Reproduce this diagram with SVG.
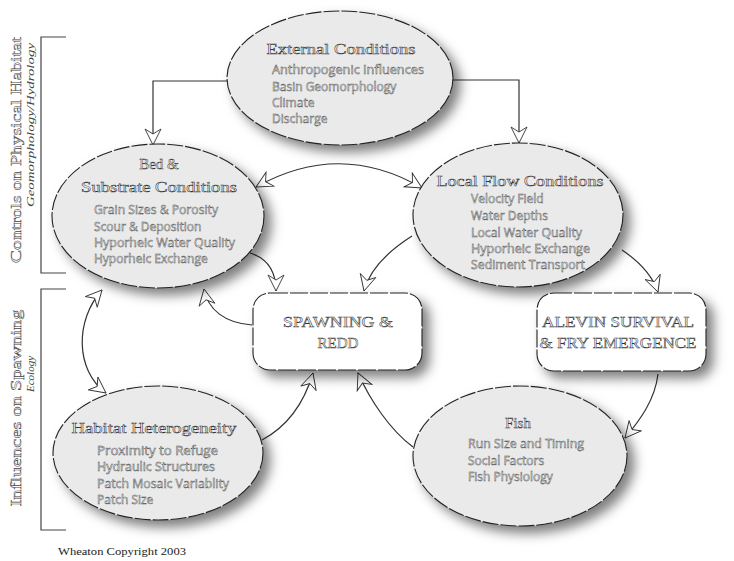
<svg xmlns="http://www.w3.org/2000/svg" width="734" height="561" viewBox="0 0 734 561">
<style>
.ell{fill:#eaeaea;stroke:#222;stroke-width:1.1;stroke-dasharray:16 2}
.box{fill:#fff;stroke:#222;stroke-width:1.1;stroke-dasharray:18 2}
.title{font-family:"Liberation Serif",serif;font-size:15px;fill:#fff;stroke:#333;stroke-width:0.5}
.item{font-family:"Open Sans","Liberation Sans",sans-serif;font-size:12px;fill:#fff;stroke:#444;stroke-width:0.45}
.cap{font-family:"Liberation Serif",serif;font-size:15px;fill:#fff;stroke:#333;stroke-width:0.5}
.side{font-family:"Liberation Serif",serif;font-size:15px;fill:#fff;stroke:#444;stroke-width:0.45}
.sub{font-family:"Liberation Serif",serif;font-size:11px;font-style:italic;fill:#444}
.conn path{fill:none;stroke:#333;stroke-width:1.2}
.brk{fill:none;stroke:#444;stroke-width:1.2}
</style>
<defs>
<filter id="sh" x="-20%" y="-20%" width="150%" height="150%">
<feDropShadow dx="7" dy="7" stdDeviation="6" flood-color="#000" flood-opacity="0.5"/>
</filter>
<marker id="ah" viewBox="-17 -9 18 18" refX="0" refY="0" markerWidth="18" markerHeight="18" markerUnits="userSpaceOnUse" orient="auto-start-reverse">
<path d="M0,0 L-16,-8 L-11,0 L-16,8 Z" fill="#fff" stroke="#333" stroke-width="0.9"/>
</marker>
</defs>
<rect width="734" height="561" fill="#fff"/>

<g id="brackets">
<path class="brk" d="M66,37 H41 V273 H66"/>
<path class="brk" d="M66,289 H41 V530 H66"/>
<text class="side" transform="translate(21,150) rotate(-90)" text-anchor="middle" textLength="226" lengthAdjust="spacingAndGlyphs">Controls on Physical Habitat</text>
<text class="sub" transform="translate(34,125) rotate(-90)" text-anchor="middle" textLength="164" lengthAdjust="spacingAndGlyphs">Geomorphology/Hydrology</text>
<text class="side" transform="translate(21,408) rotate(-90)" text-anchor="middle" textLength="197" lengthAdjust="spacingAndGlyphs">Influences on Spawning</text>
<text class="sub" transform="translate(34,374) rotate(-90)" text-anchor="middle">Ecology</text>
</g>

<g class="conn" id="connectors">
<path d="M228,81 H153 V145" marker-end="url(#ah)"/>
<path d="M452,80 H519 V143" marker-end="url(#ah)"/>
<path d="M256,187 Q340,140 422,188" marker-start="url(#ah)" marker-end="url(#ah)"/>
<path d="M250,253 C266,258 276,270 276,291" marker-end="url(#ah)"/>
<path d="M412,236 C390,250 370,268 364,291" marker-end="url(#ah)"/>
<path d="M252,325 C225,323 208,310 204,289" marker-end="url(#ah)"/>
<path d="M622,250 C640,262 652,275 658,292" marker-end="url(#ah)"/>
<path d="M658,374 C655,400 640,420 625,438" marker-end="url(#ah)"/>
<path d="M413,447 C390,430 370,400 358,373" marker-end="url(#ah)"/>
<path d="M262,440 C290,425 305,400 313,373" marker-end="url(#ah)"/>
<path d="M102,290 C75,320 75,370 106,393" marker-start="url(#ah)" marker-end="url(#ah)"/>
</g>

<g id="external">
<ellipse class="ell" cx="340" cy="78" rx="113" ry="67" filter="url(#sh)"/>
<text class="title" x="341" y="54" text-anchor="middle" textLength="149" lengthAdjust="spacingAndGlyphs">External Conditions</text>
<text class="item" x="272" y="74" textLength="152" lengthAdjust="spacingAndGlyphs">Anthropogenic Influences</text>
<text class="item" x="272" y="91">Basin Geomorphology</text>
<text class="item" x="272" y="107">Climate</text>
<text class="item" x="272" y="123">Discharge</text>
</g>

<g id="bed">
<ellipse class="ell" cx="158" cy="216" rx="106" ry="72" filter="url(#sh)"/>
<text class="title" x="159" y="169" text-anchor="middle">Bed &amp;</text>
<text class="title" x="159" y="192" text-anchor="middle" textLength="156" lengthAdjust="spacingAndGlyphs">Substrate Conditions</text>
<text class="item" x="94" y="214" textLength="124" lengthAdjust="spacingAndGlyphs">Grain Sizes &amp; Porosity</text>
<text class="item" x="94" y="231">Scour &amp; Deposition</text>
<text class="item" x="94" y="247" textLength="141" lengthAdjust="spacingAndGlyphs">Hyporheic Water Quality</text>
<text class="item" x="94" y="263">Hyporheic Exchange</text>
</g>

<g id="localflow">
<ellipse class="ell" cx="518" cy="215" rx="105" ry="72" filter="url(#sh)"/>
<text class="title" x="520" y="186" text-anchor="middle" textLength="167" lengthAdjust="spacingAndGlyphs">Local Flow Conditions</text>
<text class="item" x="471" y="203">Velocity Field</text>
<text class="item" x="471" y="220">Water Depths</text>
<text class="item" x="471" y="237" textLength="111" lengthAdjust="spacingAndGlyphs">Local Water Quality</text>
<text class="item" x="471" y="253" textLength="119" lengthAdjust="spacingAndGlyphs">Hyporheic Exchange</text>
<text class="item" x="471" y="269" textLength="114" lengthAdjust="spacingAndGlyphs">Sediment Transport</text>
</g>

<g id="spawning">
<rect class="box" x="253" y="293" width="169" height="77" rx="17" filter="url(#sh)"/>
<text class="cap" x="338" y="327" text-anchor="middle" textLength="110" lengthAdjust="spacingAndGlyphs">SPAWNING &amp;</text>
<text class="cap" x="338" y="348" text-anchor="middle">REDD</text>
</g>

<g id="alevin">
<rect class="box" x="537" y="293" width="169" height="78" rx="17" filter="url(#sh)"/>
<text class="cap" x="618" y="327" text-anchor="middle" textLength="152" lengthAdjust="spacingAndGlyphs">ALEVIN SURVIVAL</text>
<text class="cap" x="618" y="348" text-anchor="middle" textLength="157" lengthAdjust="spacingAndGlyphs">&amp; FRY EMERGENCE</text>
</g>

<g id="habitat">
<ellipse class="ell" cx="158" cy="453" rx="105" ry="67" filter="url(#sh)"/>
<text class="title" x="154" y="433" text-anchor="middle" textLength="165" lengthAdjust="spacingAndGlyphs">Habitat Heterogeneity</text>
<text class="item" x="97" y="455" textLength="121" lengthAdjust="spacingAndGlyphs">Proximity to Refuge</text>
<text class="item" x="97" y="471" textLength="118" lengthAdjust="spacingAndGlyphs">Hydraulic Structures</text>
<text class="item" x="97" y="488" textLength="132" lengthAdjust="spacingAndGlyphs">Patch Mosaic Variablity</text>
<text class="item" x="97" y="504">Patch Size</text>
</g>

<g id="fish">
<ellipse class="ell" cx="520" cy="456" rx="107" ry="70" filter="url(#sh)"/>
<text class="title" x="518" y="428" text-anchor="middle">Fish</text>
<text class="item" x="468" y="448" textLength="116" lengthAdjust="spacingAndGlyphs">Run Size and Timing</text>
<text class="item" x="468" y="465">Social Factors</text>
<text class="item" x="468" y="481">Fish Physiology</text>
</g>

<text x="58" y="555" font-family="Liberation Serif, serif" font-size="10" fill="#222" textLength="128" lengthAdjust="spacingAndGlyphs">Wheaton Copyright 2003</text>
</svg>
